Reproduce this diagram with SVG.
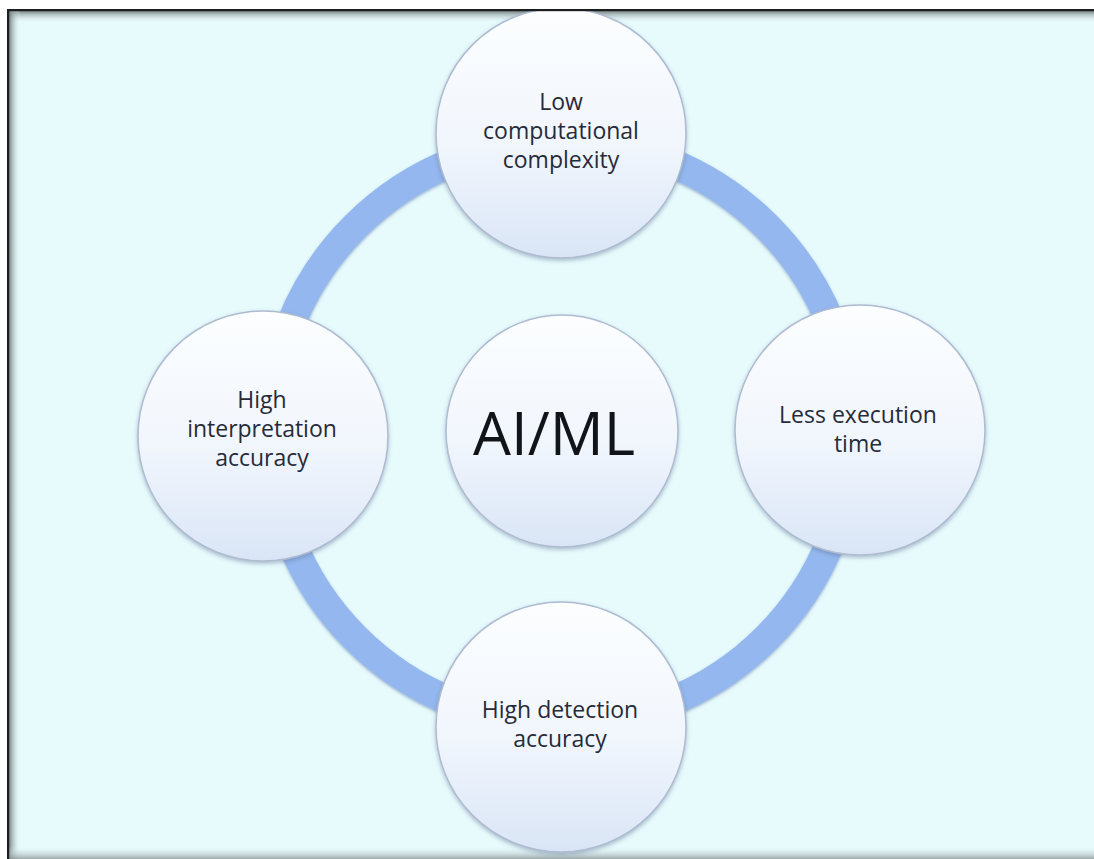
<svg xmlns="http://www.w3.org/2000/svg" width="1094" height="859" viewBox="0 0 1094 859">
  <defs>
    <linearGradient id="bubbleFill" x1="0" y1="0" x2="0" y2="1">
      <stop offset="0" stop-color="#fcfeff"/>
      <stop offset="0.55" stop-color="#f1f6fd"/>
      <stop offset="1" stop-color="#d9e5f6"/>
    </linearGradient>
    <linearGradient id="edgeTop" x1="0" y1="0" x2="0" y2="1">
      <stop offset="0" stop-color="#6f7677" stop-opacity="0.9"/>
      <stop offset="1" stop-color="#e7fbfd" stop-opacity="0"/>
    </linearGradient>
    <linearGradient id="edgeLeft" x1="0" y1="0" x2="1" y2="0">
      <stop offset="0" stop-color="#6f7677" stop-opacity="0.9"/>
      <stop offset="1" stop-color="#e7fbfd" stop-opacity="0"/>
    </linearGradient>
    <linearGradient id="edgeBottom" x1="0" y1="1" x2="0" y2="0">
      <stop offset="0" stop-color="#8a9596" stop-opacity="0.8"/>
      <stop offset="1" stop-color="#e7fbfd" stop-opacity="0"/>
    </linearGradient>
    <clipPath id="panelClip">
      <rect x="9" y="11" width="1085" height="848"/>
    </clipPath>
    <filter id="softShadow" x="-20%" y="-20%" width="140%" height="140%">
      <feDropShadow dx="0" dy="2" stdDeviation="2" flood-color="#5a6f90" flood-opacity="0.45"/>
    </filter>
    <filter id="ringShadow" x="-10%" y="-10%" width="120%" height="120%">
      <feDropShadow dx="0" dy="1.5" stdDeviation="1.5" flood-color="#4d6a9a" flood-opacity="0.5"/>
    </filter>
  </defs>
  <style>
    .bubble { fill: url(#bubbleFill); stroke: #aebbd0; stroke-width: 1.5; filter: url(#softShadow); }
    .label { font-family: "Open Sans", "Noto Sans", "Liberation Sans", sans-serif; font-size: 23px; font-weight: 500; fill: #262b3a; text-anchor: middle; }
    .hub { font-family: "Open Sans", "Noto Sans", "Liberation Sans", sans-serif; font-size: 60px; fill: #111418; text-anchor: middle; }
    .ring { fill: none; stroke: #93b7ee; stroke-width: 29; filter: url(#ringShadow); }
  </style>

  <!-- page and framed panel -->
  <rect x="0" y="0" width="1094" height="859" fill="#ffffff"/>
  <rect x="7" y="9" width="1087" height="850" fill="#e7fbfd"/>
  <rect x="7" y="11" width="1087" height="12" fill="url(#edgeTop)"/>
  <rect x="9" y="9" width="12" height="850" fill="url(#edgeLeft)"/>
  <rect x="7" y="846" width="1087" height="13" fill="url(#edgeBottom)"/>

  <g clip-path="url(#panelClip)">
    <!-- ring linking the four outer bubbles -->
    <g id="connectors">
      <circle class="ring" cx="561" cy="432" r="291"/>
    </g>

    <g id="node-top">
      <circle class="bubble" cx="561" cy="133" r="125"/>
      <text class="label" x="561" y="110">Low</text>
      <text class="label" x="561" y="139">computational</text>
      <text class="label" x="561" y="168">complexity</text>
    </g>

    <g id="node-left">
      <circle class="bubble" cx="263" cy="436" r="125"/>
      <text class="label" x="262" y="408">High</text>
      <text class="label" x="262" y="437">interpretation</text>
      <text class="label" x="262" y="466">accuracy</text>
    </g>

    <g id="node-right">
      <circle class="bubble" cx="860" cy="430" r="125"/>
      <text class="label" x="858" y="423">Less execution</text>
      <text class="label" x="858" y="452">time</text>
    </g>

    <g id="node-bottom">
      <circle class="bubble" cx="561" cy="727" r="125"/>
      <text class="label" x="560" y="718">High detection</text>
      <text class="label" x="560" y="747">accuracy</text>
    </g>

    <g id="node-center">
      <circle class="bubble" cx="562" cy="431" r="116"/>
      <text class="hub" x="554" y="455">AI/ML</text>
    </g>
  </g>

  <!-- dark frame lines on the top and left edges -->
  <rect x="7" y="9" width="1087" height="2.2" fill="#1c1f20"/>
  <rect x="7" y="9" width="2.2" height="850" fill="#1c1f20"/>
</svg>
